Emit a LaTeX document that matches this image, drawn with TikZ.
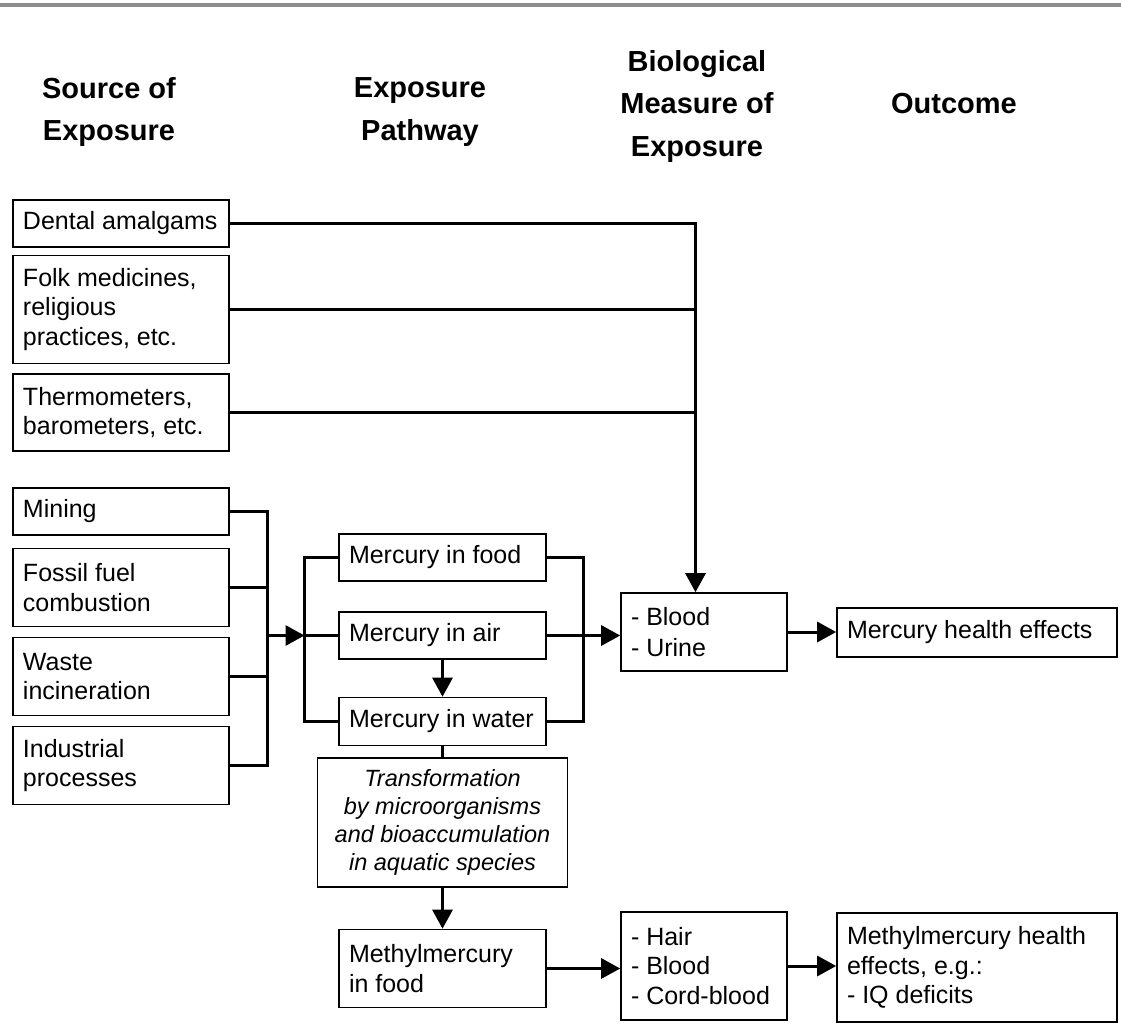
\documentclass[tikz,border=0pt]{standalone}
\usepackage{fontspec}
\setmainfont{Liberation Sans}
\usepackage{tikz}
\usetikzlibrary{arrows.meta}
\definecolor{barGray}{HTML}{8C8C8C}
\hyphenpenalty=10000
\tikzset{
  every node/.append style={font=\fontsize{12.5}{14.75}\selectfont},
  boxed/.style={draw,line width=.8pt,inner xsep=5pt,inner ysep=0pt,align=flush left},
  srcbox/.style={boxed,text width=98pt,minimum width=108pt},
  pathbox/.style={boxed,text width=93.5pt,minimum width=103.5pt},
  biobox/.style={boxed,text width=73pt,minimum width=83pt},
  outbox/.style={boxed,text width=130pt,minimum width=140pt},
  head/.style={font=\bfseries\fontsize{14.5}{21.25}\selectfont,align=center},
  conn/.style={line width=1.5pt},
}

\begin{document}
\begin{tikzpicture}[x=.5pt,y=-.5pt,>={Triangle[length=9.5pt,width=10pt]}]
\useasboundingbox (0,0) rectangle (1121,1023);
\fill[barGray] (0,3) rectangle (1121,7);
\node[head] (hsrc) at (109,112) {Source of\\Exposure};
\node[head] (hpath) at (420,112) {Exposure\\Pathway};
\node[head] (hbio) at (697,106) {Biological\\Measure of\\Exposure};
\node[head] (hout) at (954,104) {Outcome};

\node[srcbox,minimum height=23.5pt] (dental) at (121,223.5) {Dental amalgams};
\node[srcbox,minimum height=54pt] (folk) at (121,309.5) {Folk medicines,\\religious\\practices, etc.};
\node[srcbox,minimum height=38.5pt] (thermo) at (121,412.5) {Thermometers,\\barometers, etc.};
\node[srcbox,minimum height=23.5pt] (mining) at (121,511.5) {Mining};
\node[srcbox,minimum height=39pt] (fossil) at (121,587.5) {Fossil fuel\\combustion};
\node[srcbox,minimum height=39pt] (waste) at (121,676.5) {Waste\\incineration};
\node[srcbox,minimum height=39pt] (industry) at (121,765.5) {Industrial\\processes};

\node[pathbox,minimum height=23.5pt] (food) at (442.5,557.5) {Mercury in food};
\node[pathbox,minimum height=23.5pt] (air) at (442.5,635.5) {Mercury in air};
\node[pathbox,minimum height=24pt] (water) at (442.5,721.5) {Mercury in water};
\node[boxed,line width=.6pt,align=center,minimum width=125pt,minimum height=64.5pt,font=\itshape\fontsize{11.75}{14}\selectfont] (transform) at (442.5,822.5) {Transformation\\by microorganisms\\and bioaccumulation\\in aquatic species};
\node[pathbox,minimum height=39pt] (methyl) at (442.5,968.5) {Methylmercury\\in food};

\node[biobox,minimum height=39pt,font=\fontsize{12.5}{15.5}\selectfont] (blood) at (704,632) {- Blood\\- Urine};
\node[biobox,minimum height=54pt] (hair) at (704,966) {- Hair\\- Blood\\- Cord-blood};
\node[outbox,minimum height=24.5pt] (hgeffect) at (977,632.5) {Mercury health effects};
\node[outbox,minimum height=54.5pt] (mhgeffect) at (977,967.5) {Methylmercury health\\effects, e.g.:\\- IQ deficits};

\coordinate (bioin) at (695.5,223.5);
\coordinate (srcbus) at (267.5,0);
\coordinate (inbus) at (304.5,0);
\coordinate (outbus) at (583.5,0);

\draw[conn,->] (dental.east) -- (bioin) -- (bioin |- blood.north);
\draw[conn] (folk.east) -- (folk.east -| bioin);
\draw[conn] (thermo.east) -- (thermo.east -| bioin);
\draw[conn] (mining.east) -- (mining.east -| srcbus) -- (industry.east -| srcbus) -- (industry.east);
\draw[conn] (fossil.east) -- (fossil.east -| srcbus);
\draw[conn] (waste.east) -- (waste.east -| srcbus);
\draw[conn,->] (srcbus |- air.west) -- (inbus |- air.west);
\draw[conn] (food.west) -- (food.west -| inbus) -- (water.west -| inbus) -- (water.west);
\draw[conn] (inbus |- air.west) -- (air.west);
\draw[conn] (food.east) -- (food.east -| outbus) -- (water.east -| outbus) -- (water.east);
\draw[conn,->] (air.east) -- (air.east -| blood.west);
\draw[conn,->] (air.south) -- (water.north);
\draw[conn] (water.south) -- (transform.north);
\draw[conn,->] (transform.south) -- (methyl.north);
\draw[conn,->] (methyl.east) -- (methyl.east -| hair.west);
\draw[conn,->] (blood.east) -- (blood.east -| hgeffect.west);
\draw[conn,->] (hair.east) -- (hair.east -| mhgeffect.west);
\end{tikzpicture}
\end{document}
